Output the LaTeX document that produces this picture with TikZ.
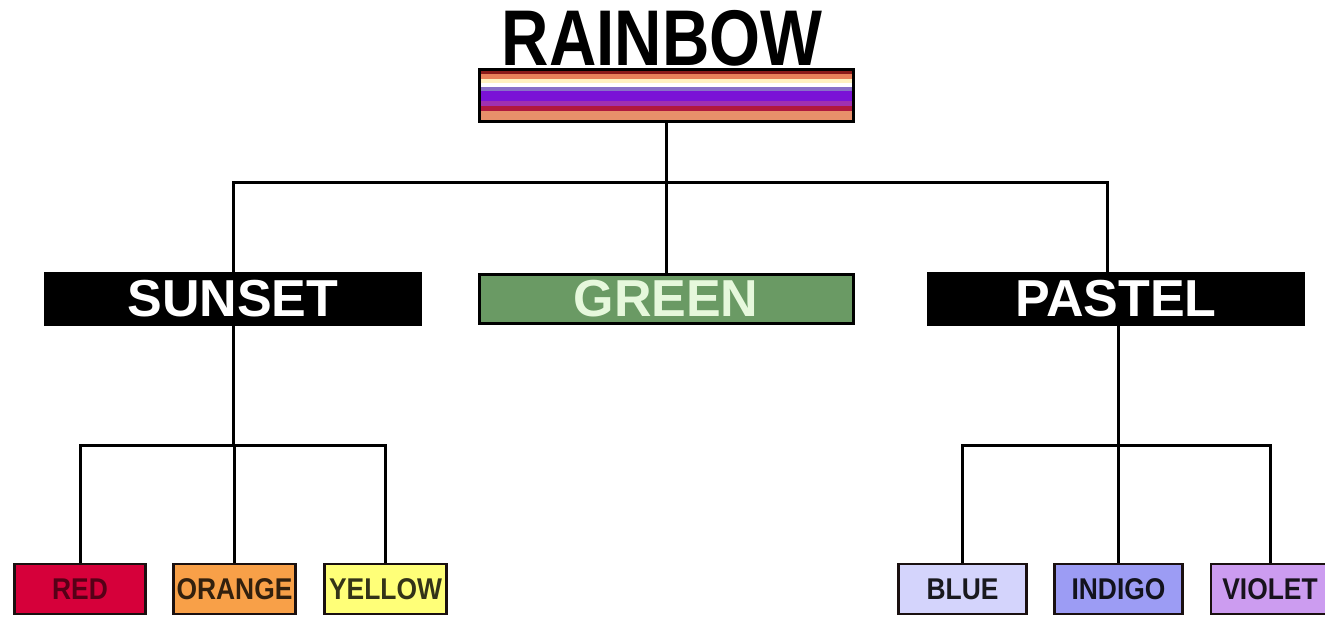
\documentclass[tikz,border=0pt]{standalone}
\usepackage{fontspec}
\setmainfont{Liberation Sans}
\newfontfamily\titlefont[FakeStretch=0.83]{Liberation Sans}
\newfontfamily\leaffont[FakeStretch=0.88]{Liberation Sans}
\usepackage{tikz}
\usetikzlibrary{calc}
\usepackage{xcolor}
\definecolor{bandred}{HTML}{8B1A1A}
\definecolor{bandsalmon}{HTML}{E8805A}
\definecolor{bandcream}{HTML}{FFF2C0}
\definecolor{bandlilac}{HTML}{8870C8}
\definecolor{bandviolet}{HTML}{7A12D6}
\definecolor{bandplum}{HTML}{A030B0}
\definecolor{bandcrimson}{HTML}{B0183E}
\definecolor{bandpeach}{HTML}{E8906A}
\definecolor{leafgreen}{HTML}{6A9A64}
\definecolor{greentext}{HTML}{E6F8DC}
\definecolor{leafred}{HTML}{D6003A}
\definecolor{leaforange}{HTML}{F8A048}
\definecolor{leafyellow}{HTML}{FFFF78}
\definecolor{leafblue}{HTML}{D4D4FC}
\definecolor{leafindigo}{HTML}{9C9CF4}
\definecolor{leafviolet}{HTML}{CC9CF0}
\definecolor{leafline}{HTML}{1A1010}
\tikzset{
    wire/.style={draw=black, line width=3pt},
    groupbox/.style={fill=black, text=white, minimum width=378pt, minimum height=54pt, inner sep=0pt, font=\fontsize{52}{52}\selectfont\bfseries},
    leafbox/.style={draw=leafline, line width=2.5pt, minimum height=50pt, inner sep=0pt, font=\leaffont\fontsize{30}{30}\selectfont\bfseries}
}

\begin{document}
\begin{tikzpicture}[x=1pt, y=-1pt]
    \useasboundingbox[fill=white] (0,0) rectangle (1325,616);
    \foreach \ya/\yb/\col in {70/74/bandred, 74/79/bandsalmon, 79/83/bandcream, 83/87/white, 87/91.3/bandlilac, 91.3/101.3/bandviolet, 101.3/105.7/bandplum, 105.7/111.3/bandcrimson, 111.3/120/bandpeach}
        \fill[\col] (479,\ya) rectangle (853,\yb);
    \node[draw=black, line width=3pt, minimum width=374pt, minimum height=52pt, inner sep=0pt] (rainbow) at (666,95) {};
    \node[anchor=base, inner sep=0pt, font=\titlefont\fontsize{79}{79}\selectfont\bfseries] (title) at (662,65) {RAINBOW};

    \node[groupbox] (sunset) at (233,299) {SUNSET};
    \node[groupbox, fill=leafgreen, draw=black, line width=3pt, text=greentext, minimum width=374pt, minimum height=49pt] (green) at (666,299) {GREEN};
    \node[groupbox] (pastel) at (1116,299) {PASTEL};

    \node[leafbox, fill=leafred, text=leafred!40!black, minimum width=131pt] (red) at (80,589) {RED};
    \node[leafbox, fill=leaforange, text=leaforange!20!black, minimum width=122pt] (orange) at (234.5,589) {ORANGE};
    \node[leafbox, fill=leafyellow, text=leafyellow!20!black, minimum width=122pt] (yellow) at (385.5,589) {YELLOW};
    \node[leafbox, fill=leafblue, text=leafblue!12!black, minimum width=128pt] (blue) at (962.5,589) {BLUE};
    \node[leafbox, fill=leafindigo, text=leafindigo!12!black, minimum width=128pt] (indigo) at (1118.5,589) {INDIGO};
    \node[leafbox, fill=leafviolet, text=leafviolet!12!black, minimum width=118pt] (violet) at (1270,589) {VIOLET};

    \coordinate (bus) at (666,182);
    \coordinate (sunbus) at (233,445);
    \coordinate (pastbus) at (1118,445);
    \draw[wire] (rainbow) -- (green);
    \draw[wire] (sunset.north) |- (bus) -| ([xshift=-9pt]pastel.north);
    \draw[wire] (sunset.south) -- (sunbus);
    \draw[wire] (red) |- (sunbus) -| (yellow);
    \draw[wire] (orange) -- (orange |- sunbus);
    \draw[wire] (pastel.south -| pastbus) -- (pastbus);
    \draw[wire] (blue) |- (pastbus) -| (violet);
    \draw[wire] (indigo) -- (indigo |- pastbus);
\end{tikzpicture}
\end{document}
